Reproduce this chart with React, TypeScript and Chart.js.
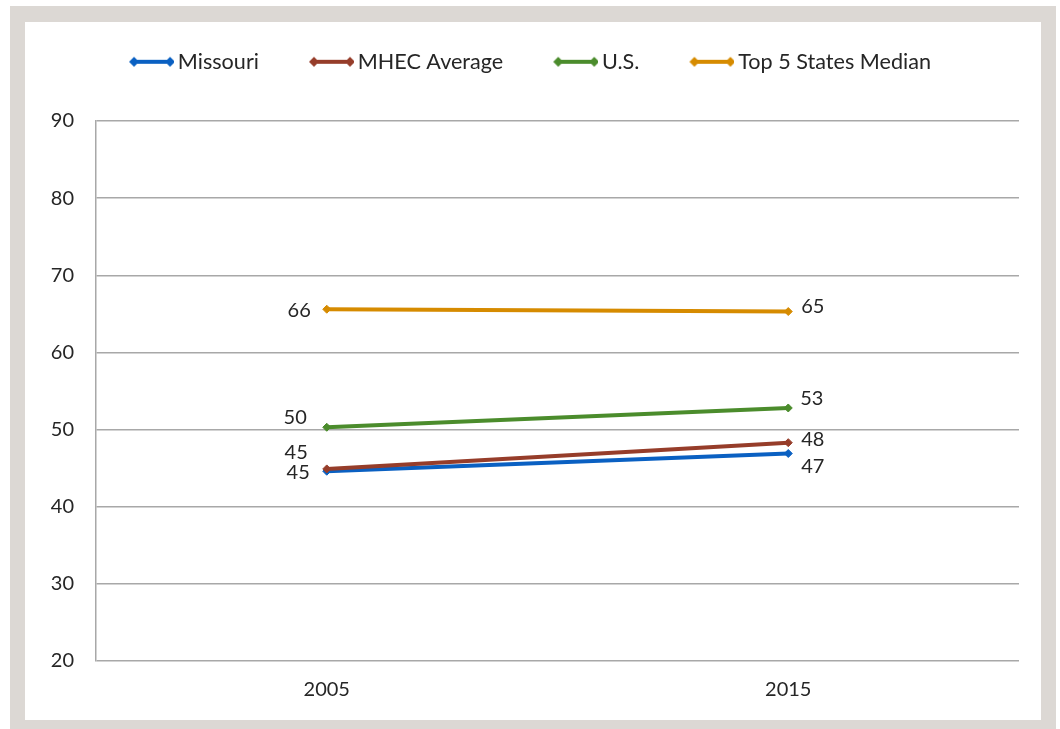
import React, { useEffect, useRef } from "react";
import { Chart, registerables } from "chart.js";

Chart.register(...registerables);

const years = ["2005", "2015"];
const missouri = [44.6, 46.9];
const mhecAverage = [44.9, 48.3];
const us = [50.3, 52.8];
const top5Median = [65.6, 65.3];
const yTicks = [20, 30, 40, 50, 60, 70, 80, 90];

const seriesNames = ["Missouri", "MHEC Average", "U.S.", "Top 5 States Median"];
const seriesColors = ["#0a60c2", "#963d2a", "#4b8c2c", "#d68b00"];

const FONT = "Lato, 'Open Sans', sans-serif";
const TEXT = "#262626";
const GRID = "#a8a8a8";

// label placements (style only): [dx, dy, align]
const labelPlacement: Array<Array<[number, number, "left" | "right"]>> = [
  [[-17, 1, "right"], [13, 13, "left"]],
  [[-19, -16, "right"], [13, -3, "left"]],
  [[-20, -10, "right"], [12, -9, "left"]],
  [[-16, 1, "right"], [13, -5, "left"]],
];

function makeLegendImage(color: string): HTMLCanvasElement {
  const c = document.createElement("canvas");
  c.width = 50;
  c.height = 12;
  const g = c.getContext("2d")!;
  const x0 = 6 + 4, x1 = 50 - 4, y = 6;
  g.strokeStyle = color;
  g.lineWidth = 4;
  g.beginPath();
  g.moveTo(x0, y);
  g.lineTo(x1, y);
  g.stroke();
  g.fillStyle = color;
  for (const cx of [x0, x1]) {
    g.beginPath();
    g.moveTo(cx - 5, y);
    g.lineTo(cx, y - 5);
    g.lineTo(cx + 5, y);
    g.lineTo(cx, y + 5);
    g.closePath();
    g.fill();
  }
  return c;
}

const pointLabelsPlugin = {
  id: "pointLabels",
  afterDatasetsDraw(chart: any) {
    const ctx = chart.ctx;
    ctx.save();
    ctx.font = `20px ${FONT}`;
    ctx.fillStyle = TEXT;
    ctx.textBaseline = "middle";
    chart.data.datasets.forEach((ds: any, di: number) => {
      const meta = chart.getDatasetMeta(di);
      meta.data.forEach((pt: any, i: number) => {
        const [dx, dy, align] = labelPlacement[di][i];
        ctx.textAlign = align;
        ctx.fillText(String(Math.round(ds.data[i])), pt.x + dx, pt.y + dy);
      });
    });
    ctx.restore();
  },
};

export default function App() {
  const ref = useRef<HTMLCanvasElement | null>(null);

  useEffect(() => {
    if (!ref.current) return;
    const allData = [missouri, mhecAverage, us, top5Median];
    const images = seriesColors.map(makeLegendImage);
    const chart = new Chart(ref.current, {
      type: "line",
      data: {
        labels: years,
        datasets: allData.map((d, i) => ({
          label: seriesNames[i],
          data: d,
          borderColor: seriesColors[i],
          backgroundColor: seriesColors[i],
          borderWidth: 4,
          pointStyle: "rectRot",
          pointRadius: 4,
          pointBorderWidth: 1,
          pointBackgroundColor: seriesColors[i],
          pointBorderColor: seriesColors[i],
          fill: false,
          tension: 0,
          order: 4 - i,
        })),
      },
      options: {
        responsive: false,
        animation: false,
        layout: { padding: { top: -23, right: 22, bottom: 0, left: 18 } },
        plugins: {
          tooltip: { enabled: false },
          legend: {
            position: "top",
            labels: {
              usePointStyle: true,
              pointStyleWidth: 36,
              padding: 52,
              color: TEXT,
              font: { family: FONT, size: 21.6 },
              generateLabels: (c: any) =>
                c.data.datasets.map((ds: any, i: number) => ({
                  text: ds.label,
                  datasetIndex: i,
                  pointStyle: images[i],
                  fillStyle: seriesColors[i],
                  strokeStyle: seriesColors[i],
                  lineWidth: 0,
                  hidden: false,
                  fontColor: TEXT,
                })),
            },
          },
          subtitle: {
            display: true,
            text: " ",
            position: "top",
            weight: 500,
            padding: 0,
            font: { size: 38.4, lineHeight: 1 },
          } as any,
        },
        scales: {
          x: {
            offset: true,
            grid: { display: false, drawTicks: false },
            border: { display: false },
            ticks: { color: TEXT, font: { family: FONT, size: 20 }, padding: 17 },
            afterFit: (s: any) => {
              s.height = 59;
            },
          },
          y: {
            min: 20,
            max: 90,
            afterBuildTicks: (s: any) => {
              s.ticks = yTicks.map((v) => ({ value: v }));
            },
            grid: { color: GRID, lineWidth: 1.5, drawTicks: false },
            border: { display: true, color: GRID, width: 1.5 },
            ticks: { color: TEXT, font: { family: FONT, size: 20 }, padding: 22 },
            afterFit: (s: any) => {
              s.width = 53;
            },
          },
        },
      },
      plugins: [pointLabelsPlugin],
    });
    return () => chart.destroy();
  }, []);

  return (
    <div
      style={{
        position: "absolute",
        left: 10,
        top: 6,
        width: 1046,
        height: 723,
        background: "#dcd8d4",
        boxSizing: "border-box",
        padding: "16px 15px 0 15px",
      }}
    >
      <div style={{ width: 1016, height: 698, background: "#ffffff" }}>
        <canvas ref={ref} width={1016} height={698} style={{ display: "block" }} />
      </div>
    </div>
  );
}
